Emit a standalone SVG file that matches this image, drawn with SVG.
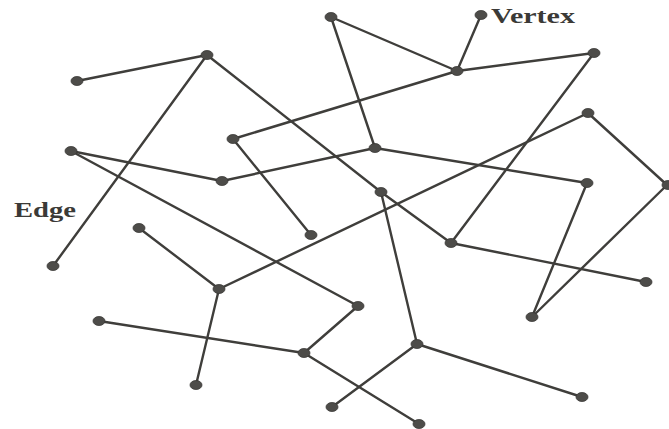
<svg xmlns="http://www.w3.org/2000/svg" width="669" height="429" viewBox="0 0 669 429">
<style>
.e{stroke:#3f3e3b;stroke-width:2.4;stroke-linecap:round;fill:none}
.v{fill:#4d4c49;stroke:#3a3936;stroke-width:0.8}
.lbl{font-family:"Liberation Serif","Times New Roman",serif;font-weight:bold;font-size:21px;fill:#3b3a37}
</style>
<rect width="669" height="429" fill="#ffffff"/>
<g id="connectors">
<line class="e" x1="77" y1="81" x2="207" y2="55"/>
<line class="e" x1="207" y1="55" x2="53" y2="266"/>
<line class="e" x1="207" y1="55" x2="381" y2="192"/>
<line class="e" x1="381" y1="192" x2="451" y2="243"/>
<line class="e" x1="233" y1="139" x2="457" y2="71"/>
<line class="e" x1="233" y1="139" x2="311" y2="235"/>
<line class="e" x1="71" y1="151" x2="222" y2="181"/>
<line class="e" x1="222" y1="181" x2="375" y2="148"/>
<line class="e" x1="71" y1="151" x2="358" y2="306"/>
<line class="e" x1="331" y1="17" x2="457" y2="71"/>
<line class="e" x1="331" y1="17" x2="375" y2="148"/>
<line class="e" x1="481" y1="15" x2="457" y2="71"/>
<line class="e" x1="457" y1="71" x2="594" y2="53"/>
<line class="e" x1="594" y1="53" x2="451" y2="243"/>
<line class="e" x1="375" y1="148" x2="587" y2="183"/>
<line class="e" x1="587" y1="183" x2="532" y2="317"/>
<line class="e" x1="588" y1="113" x2="219" y2="289"/>
<line class="e" x1="588" y1="113" x2="667" y2="185"/>
<line class="e" x1="667" y1="185" x2="532" y2="317"/>
<line class="e" x1="451" y1="243" x2="646" y2="282"/>
<line class="e" x1="381" y1="192" x2="417" y2="344"/>
<line class="e" x1="139" y1="228" x2="219" y2="289"/>
<line class="e" x1="219" y1="289" x2="196" y2="385"/>
<line class="e" x1="99" y1="321" x2="304" y2="353"/>
<line class="e" x1="304" y1="353" x2="358" y2="306"/>
<line class="e" x1="304" y1="353" x2="419" y2="424"/>
<line class="e" x1="417" y1="344" x2="332" y2="407"/>
<line class="e" x1="417" y1="344" x2="582" y2="397"/>
</g>
<g id="vA"><ellipse class="v" cx="77" cy="81" rx="6" ry="4.5"/></g>
<g id="vB"><ellipse class="v" cx="207" cy="55" rx="6" ry="4.5"/></g>
<g id="vC"><ellipse class="v" cx="233" cy="139" rx="6" ry="4.5"/></g>
<g id="vD"><ellipse class="v" cx="71" cy="151" rx="6" ry="4.5"/></g>
<g id="vE"><ellipse class="v" cx="222" cy="181" rx="6" ry="4.5"/></g>
<g id="vF"><ellipse class="v" cx="331" cy="17" rx="6" ry="4.5"/></g>
<g id="vG"><ellipse class="v" cx="481" cy="15" rx="6" ry="4.5"/></g>
<g id="vH"><ellipse class="v" cx="457" cy="71" rx="6" ry="4.5"/></g>
<g id="vI"><ellipse class="v" cx="594" cy="53" rx="6" ry="4.5"/></g>
<g id="vJ"><ellipse class="v" cx="588" cy="113" rx="6" ry="4.5"/></g>
<g id="vK"><ellipse class="v" cx="375" cy="148" rx="6" ry="4.5"/></g>
<g id="vL"><ellipse class="v" cx="587" cy="183" rx="6" ry="4.5"/></g>
<g id="vM"><ellipse class="v" cx="381" cy="192" rx="6" ry="4.5"/></g>
<g id="vN"><ellipse class="v" cx="668" cy="185" rx="6" ry="4.5"/></g>
<g id="vO"><ellipse class="v" cx="53" cy="266" rx="6" ry="4.5"/></g>
<g id="vP"><ellipse class="v" cx="139" cy="228" rx="6" ry="4.5"/></g>
<g id="vQ"><ellipse class="v" cx="311" cy="235" rx="6" ry="4.5"/></g>
<g id="vR"><ellipse class="v" cx="219" cy="289" rx="6" ry="4.5"/></g>
<g id="vS"><ellipse class="v" cx="99" cy="321" rx="6" ry="4.5"/></g>
<g id="vT"><ellipse class="v" cx="304" cy="353" rx="6" ry="4.5"/></g>
<g id="vU"><ellipse class="v" cx="196" cy="385" rx="6" ry="4.5"/></g>
<g id="vV"><ellipse class="v" cx="332" cy="407" rx="6" ry="4.5"/></g>
<g id="vW"><ellipse class="v" cx="451" cy="243" rx="6" ry="4.5"/></g>
<g id="vX"><ellipse class="v" cx="646" cy="282" rx="6" ry="4.5"/></g>
<g id="vY"><ellipse class="v" cx="532" cy="317" rx="6" ry="4.5"/></g>
<g id="vZ"><ellipse class="v" cx="358" cy="306" rx="6" ry="4.5"/></g>
<g id="vAA"><ellipse class="v" cx="417" cy="344" rx="6" ry="4.5"/></g>
<g id="vAB"><ellipse class="v" cx="582" cy="397" rx="6" ry="4.5"/></g>
<g id="vAC"><ellipse class="v" cx="419" cy="424" rx="6" ry="4.5"/></g>
<g id="labels">
<text class="lbl" x="491" y="23" textLength="84" lengthAdjust="spacingAndGlyphs">Vertex</text>
<text class="lbl" x="14" y="217" textLength="62" lengthAdjust="spacingAndGlyphs">Edge</text>
</g>
</svg>
